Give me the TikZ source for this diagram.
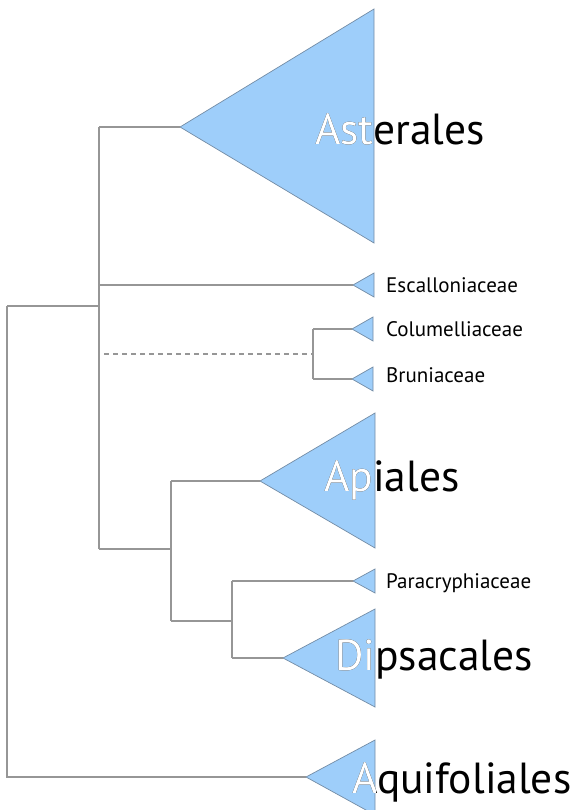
\documentclass[tikz,border=0pt]{standalone}
\usepackage{fontspec}
\setmainfont{PT Sans}
\definecolor{cladeblue}{RGB}{158,206,250}
\definecolor{cladeedge}{RGB}{115,140,165}
\definecolor{linegray}{RGB}{150,150,150}
\begin{document}
\begin{tikzpicture}[x=1pt,y=-1pt,
  branch/.style={draw=linegray, line width=1.1pt},
  dashbranch/.style={draw=linegray, line width=1.3pt, dash pattern=on 5pt off 4pt},
  clade/.style={fill=cladeblue, draw=cladeedge, line width=0.7pt},
  bigtext/.style={font=\fontsize{43.5}{43.5}\selectfont, anchor=base west, inner sep=0pt},
  smalltext/.style={font=\fontsize{21}{21}\selectfont, anchor=base west, inner sep=0pt}]
\useasboundingbox (0,0) rectangle (573,810);
\clip (0,0) rectangle (573,810);

% internal coordinates
\coordinate (root) at (7,306);
\coordinate (rootbot) at (7,777);
\coordinate (bb) at (99,306);
\coordinate (bbtop) at (99,127);
\coordinate (bbesc) at (99,285);
\coordinate (bbbot) at (99,549);
\coordinate (dashstart) at (104,354);
\coordinate (cb) at (313,354);
\coordinate (cbtop) at (313,329);
\coordinate (cbbot) at (313,379);
\coordinate (ad) at (171,549);
\coordinate (adtop) at (171,481);
\coordinate (adbot) at (171,621);
\coordinate (pd) at (232,621);
\coordinate (pdtop) at (232,581);
\coordinate (pdbot) at (232,658);

% triangles
\path[clade] (180,127) coordinate (ast) -- (374,9) -- (374,243) -- cycle;
\path[clade] (353,285) coordinate (esc) -- (374,273) -- (374,297) -- cycle;
\path[clade] (352,329) coordinate (col) -- (373,317) -- (373,341) -- cycle;
\path[clade] (352,379) coordinate (bru) -- (373,367) -- (373,391) -- cycle;
\path[clade] (260,481) coordinate (api) -- (375,413) -- (375,548) -- cycle;
\path[clade] (353,581) coordinate (par) -- (375,569) -- (375,593) -- cycle;
\path[clade] (283,658) coordinate (dip) -- (375,609) -- (375,707) -- cycle;
\path[clade] (306,777) coordinate (aqu) -- (375,740) -- (375,815) -- cycle;

% branches
\draw[branch] (root) -- (bb);
\draw[branch] (root) -- (rootbot) -- (aqu);
\draw[branch] (bbtop) -- (bbbot);
\draw[branch] (bbtop) -- (ast);
\draw[branch] (bbesc) -- (esc);
\draw[dashbranch] (dashstart) -- (cb);
\draw[branch] (cbtop) -- (cbbot);
\draw[branch] (cbtop) -- (col);
\draw[branch] (cbbot) -- (bru);
\draw[branch] (bbbot) -- (ad);
\draw[branch] (adtop) -- (adbot);
\draw[branch] (adtop) -- (api);
\draw[branch] (adbot) -- (pd);
\draw[branch] (pdtop) -- (pdbot);
\draw[branch] (pdtop) -- (par);
\draw[branch] (pdbot) -- (dip);

% small labels
\node[smalltext] (esclab) at (386,292) {Escalloniaceae};
\node[smalltext] (collab) at (386,336) {Columelliaceae};
\node[smalltext] (brulab) at (386,382) {Bruniaceae};
\node[smalltext] (parlab) at (386,588) {Paracryphiaceae};

% big labels (black), then white part clipped to triangles
\node[bigtext] (astlab) at (315,145) {Asterales};
\node[bigtext] (apilab) at (324,491) {Apiales};
\node[bigtext] (diplab) at (335,670) {Dipsacales};
\node[bigtext] (aqulab) at (352,793) {Aquifoliales};
\begin{scope}
  \clip (180,127) -- (374,9) -- (374,243) -- cycle;
  \node[bigtext, text=white] (astlabw) at (315,145) {Asterales};
\end{scope}
\begin{scope}
  \clip (260,481) -- (375,413) -- (375,548) -- cycle;
  \node[bigtext, text=white] (apilabw) at (324,491) {Apiales};
\end{scope}
\begin{scope}
  \clip (283,658) -- (375,609) -- (375,707) -- cycle;
  \node[bigtext, text=white] (diplabw) at (335,670) {Dipsacales};
\end{scope}
\begin{scope}
  \clip (306,777) -- (375,740) -- (375,815) -- cycle;
  \node[bigtext, text=white] (aqulabw) at (352,793) {Aquifoliales};
\end{scope}
\end{tikzpicture}
\end{document}
